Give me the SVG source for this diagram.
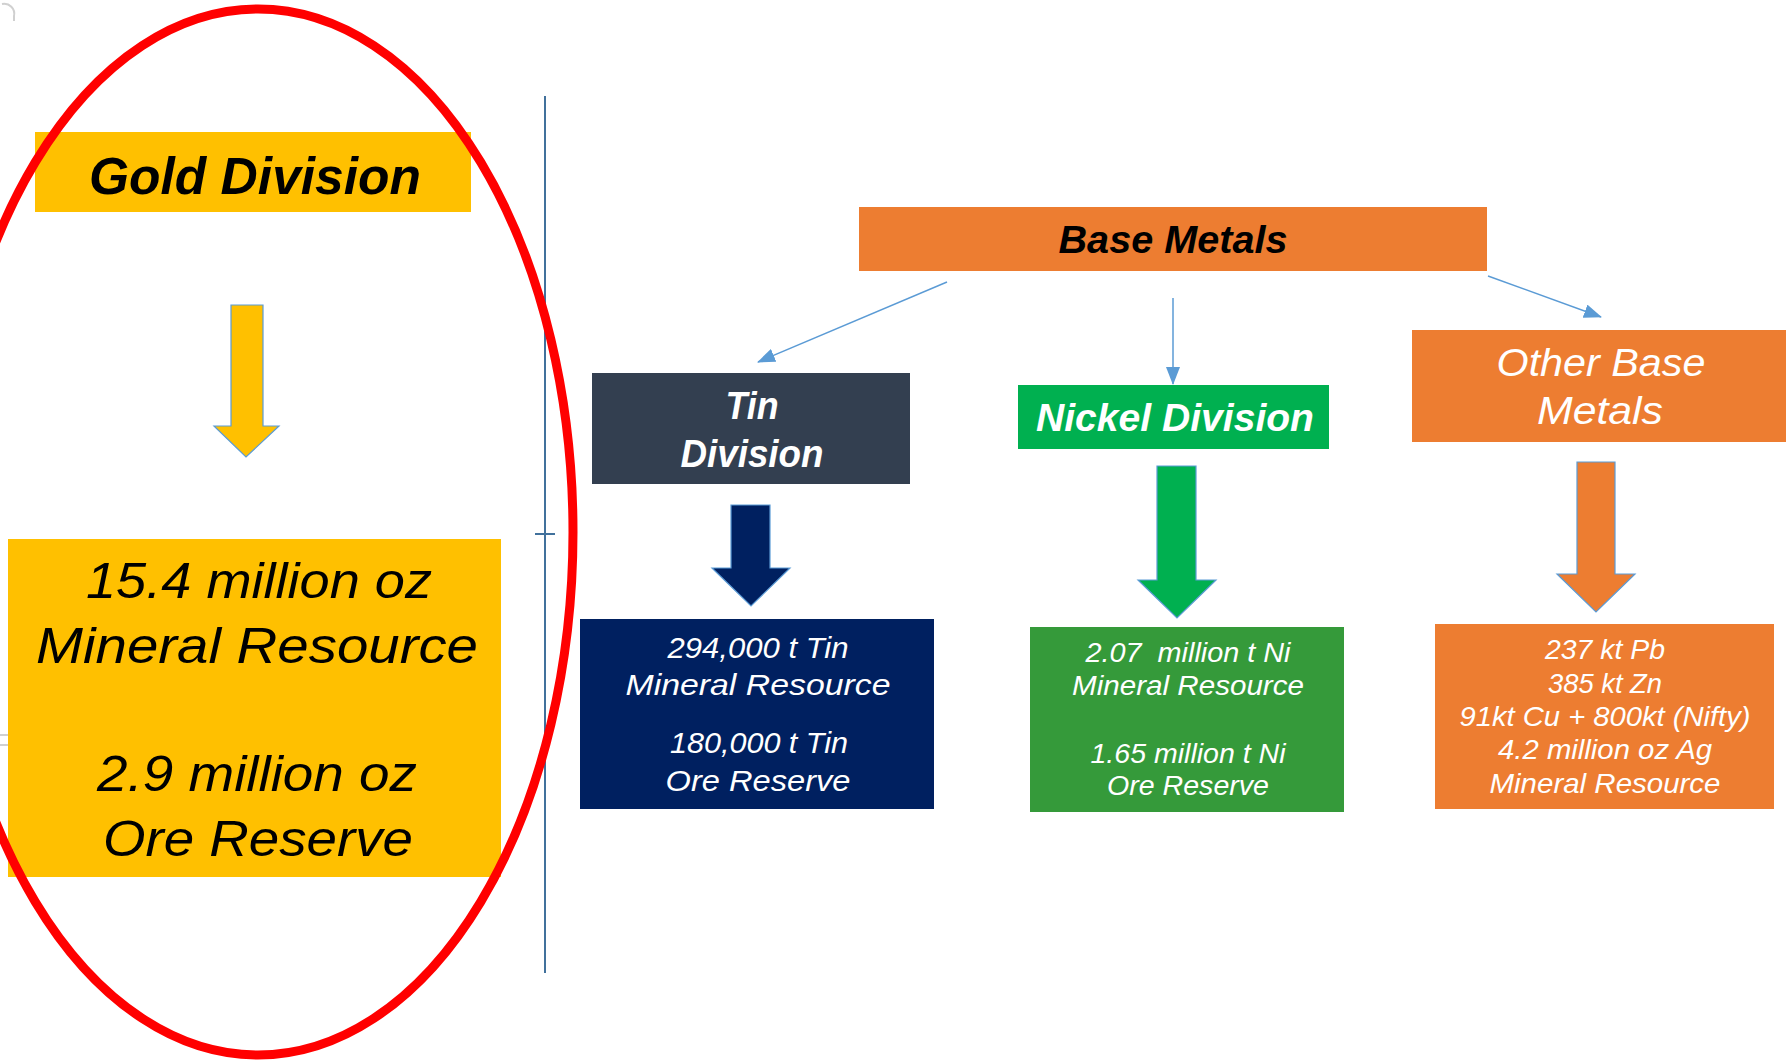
<svg xmlns="http://www.w3.org/2000/svg" width="1787" height="1062" viewBox="0 0 1787 1062">
<defs>
<style>
.t{font-family:"Liberation Sans",Arial,sans-serif;font-style:italic;text-anchor:middle}
.b{font-weight:bold}
.w{fill:#ffffff}
.k{fill:#000000}
.blk{stroke:#5B9BD5;stroke-width:1.2}
.con{stroke:#5B9BD5;stroke-width:1.5;fill:none}
</style>
<marker id="ah" markerWidth="18" markerHeight="14" refX="17" refY="7" orient="auto" markerUnits="userSpaceOnUse">
<path d="M0,0 L18,7 L0,14 Z" fill="#5B9BD5"/>
</marker>
</defs>
<rect width="1787" height="1062" fill="#ffffff"/>
<!-- artifacts -->
<path d="M2,4 A10,10 0 0 1 14,16 L14,21" fill="none" stroke="#d0d0d0" stroke-width="2"/>
<rect x="-2" y="735" width="15" height="10" fill="none" stroke="#d0d0d0" stroke-width="2"/>
<!-- divider -->
<g id="divider">
<line x1="545" y1="96" x2="545" y2="973" stroke="#41719C" stroke-width="2"/>
<line x1="535" y1="534" x2="555" y2="534" stroke="#41719C" stroke-width="2"/>
</g>
<g id="gold-division">
<rect x="35" y="132" width="436" height="80" fill="#FFC000"/>
<text class="t b k" x="255" y="194" font-size="52" textLength="332" lengthAdjust="spacingAndGlyphs">Gold Division</text>
</g>
<g id="gold-arrow">
<polygon class="blk" points="231,305 263,305 263,426 279,426 246,457 214,426 231,426" fill="#FFC000"/>
</g>
<g id="gold-data">
<rect x="8" y="539" width="493" height="338" fill="#FFC000"/>
<g class="t k" font-size="50">
<text x="259" y="598" textLength="346" lengthAdjust="spacingAndGlyphs">15.4 million oz</text>
<text x="257" y="663" textLength="442" lengthAdjust="spacingAndGlyphs">Mineral Resource</text>
<text x="257" y="791" textLength="320" lengthAdjust="spacingAndGlyphs">2.9 million oz</text>
<text x="258" y="856" textLength="310" lengthAdjust="spacingAndGlyphs">Ore Reserve</text>
</g>
</g>
<g id="base-metals">
<rect x="859" y="207" width="628" height="64" fill="#ED7D31"/>
<text class="t b k" x="1173" y="253" font-size="38" textLength="229" lengthAdjust="spacingAndGlyphs">Base Metals</text>
</g>
<g id="tin-division">
<rect x="592" y="373" width="318" height="111" fill="#333F50"/>
<text class="t b w" x="752" y="419" font-size="38" textLength="53" lengthAdjust="spacingAndGlyphs">Tin</text>
<text class="t b w" x="752" y="467" font-size="38" textLength="143" lengthAdjust="spacingAndGlyphs">Division</text>
</g>
<g id="nickel-division">
<rect x="1018" y="385" width="311" height="64" fill="#00B050"/>
<text class="t b w" x="1175" y="431" font-size="38" textLength="278" lengthAdjust="spacingAndGlyphs">Nickel Division</text>
</g>
<g id="other-base-metals">
<rect x="1412" y="330" width="374" height="112" fill="#ED7D31"/>
<text class="t w" x="1601" y="376" font-size="38" textLength="209" lengthAdjust="spacingAndGlyphs">Other Base</text>
<text class="t w" x="1600" y="424" font-size="38" textLength="126" lengthAdjust="spacingAndGlyphs">Metals</text>
</g>
<g id="connectors">
<line class="con" x1="947" y1="282" x2="758" y2="362" marker-end="url(#ah)"/>
<line class="con" x1="1173" y1="298" x2="1173" y2="384" marker-end="url(#ah)"/>
<line class="con" x1="1488" y1="276" x2="1601" y2="317" marker-end="url(#ah)"/>
</g>
<g id="tin-arrow">
<polygon class="blk" points="731,505 770,505 770,568 790,568 751,606 712,568 731,568" fill="#002060"/>
</g>
<g id="nickel-arrow">
<polygon class="blk" points="1157,466 1196,466 1196,580 1216,580 1177,618 1138,580 1157,580" fill="#00B050"/>
</g>
<g id="other-arrow">
<polygon class="blk" points="1577,462 1615,462 1615,574 1635,574 1596,612 1557,574 1577,574" fill="#ED7D31"/>
</g>
<g id="tin-data">
<rect x="580" y="619" width="354" height="190" fill="#002060"/>
<g class="t w" font-size="30">
<text x="758" y="658" textLength="181" lengthAdjust="spacingAndGlyphs">294,000 t Tin</text>
<text x="758" y="695" textLength="265" lengthAdjust="spacingAndGlyphs">Mineral Resource</text>
<text x="759" y="753" textLength="178" lengthAdjust="spacingAndGlyphs">180,000 t Tin</text>
<text x="758" y="791" textLength="185" lengthAdjust="spacingAndGlyphs">Ore Reserve</text>
</g>
</g>
<g id="nickel-data">
<rect x="1030" y="627" width="314" height="185" fill="#359A3A"/>
<g class="t w" font-size="27">
<text x="1188" y="662" textLength="205" lengthAdjust="spacingAndGlyphs" xml:space="preserve">2.07  million t Ni</text>
<text x="1188" y="695" textLength="232" lengthAdjust="spacingAndGlyphs">Mineral Resource</text>
<text x="1188" y="763" textLength="195" lengthAdjust="spacingAndGlyphs">1.65 million t Ni</text>
<text x="1188" y="795" textLength="162" lengthAdjust="spacingAndGlyphs">Ore Reserve</text>
</g>
</g>
<g id="other-data">
<rect x="1435" y="624" width="339" height="185" fill="#ED7D31"/>
<g class="t w" font-size="28">
<text x="1605" y="659" textLength="120" lengthAdjust="spacingAndGlyphs">237 kt Pb</text>
<text x="1605" y="693" textLength="114" lengthAdjust="spacingAndGlyphs">385 kt Zn</text>
<text x="1605" y="726" textLength="291" lengthAdjust="spacingAndGlyphs">91kt Cu + 800kt (Nifty)</text>
<text x="1605" y="759" textLength="214" lengthAdjust="spacingAndGlyphs">4.2 million oz Ag</text>
<text x="1605" y="793" textLength="231" lengthAdjust="spacingAndGlyphs">Mineral Resource</text>
</g>
</g>
<g id="highlight">
<ellipse cx="258" cy="532" rx="315" ry="523" fill="none" stroke="#FF0000" stroke-width="9"/>
</g>
</svg>
